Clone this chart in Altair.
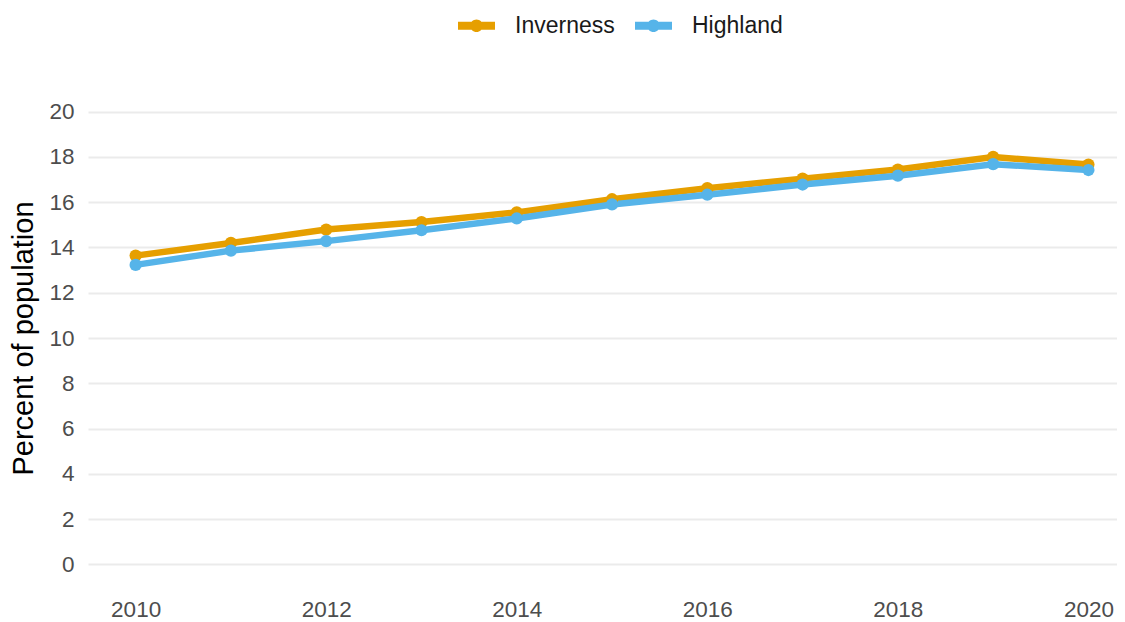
import altair as alt
import pandas as pd

years = [2010, 2011, 2012, 2013, 2014, 2015, 2016, 2017, 2018, 2019, 2020]
inverness = [13.64, 14.2, 14.79, 15.12, 15.55, 16.13, 16.62, 17.04, 17.44, 18.0, 17.66]
highland = [13.23, 13.86, 14.28, 14.76, 15.28, 15.9, 16.33, 16.78, 17.17, 17.68, 17.42]
series = ["Inverness", "Highland"]
colors = ["#E69F00", "#56B4E9"]

rows = []
for y, v in zip(years, inverness):
    rows.append({"year": y, "value": v, "area": "Inverness"})
for y, v in zip(years, highland):
    rows.append({"year": y, "value": v, "area": "Highland"})
df = pd.DataFrame(rows)

FONT = "Liberation Sans"

x = alt.X("year:Q", scale=alt.Scale(domain=[2009.5, 2020.3], nice=False, zero=False),
          axis=alt.Axis(values=[2010, 2012, 2014, 2016, 2018, 2020], format="d", title=None,
                        grid=False, domain=False, ticks=False, labelFontSize=22.5,
                        labelColor="#4D4D4D", labelPadding=11, labelFont=FONT))
y = alt.Y("value:Q", scale=alt.Scale(domain=[-1, 21], nice=False),
          axis=alt.Axis(values=list(range(0, 21, 2)), title="Percent of population",
                        grid=True, gridColor="#EBEBEB", gridWidth=1.8, domain=False, ticks=False,
                        labelFontSize=22.5, labelColor="#4D4D4D", labelPadding=14, labelFont=FONT,
                        titleFontSize=29, titleColor="#000000", titleFont=FONT,
                        titleFontWeight="normal", titlePadding=10))

sym = ("M-1,-0.22 L1,-0.22 L1,0.22 L-1,0.22 Z "
       "M0.34,0 A0.34,0.34 0 1,1 -0.34,0 A0.34,0.34 0 1,1 0.34,0 Z")

color = alt.Color("area:N", scale=alt.Scale(domain=series, range=colors),
                  legend=alt.Legend(title=None, orient="none", direction="horizontal",
                                    legendX=370, legendY=-82, symbolType=sym, symbolSize=1369,
                                    symbolStrokeWidth=0, symbolOpacity=1,
                                    labelFontSize=23, labelColor="#1A1A1A",
                                    labelFont=FONT, labelOffset=20, columnPadding=20))

lines = alt.Chart(df).mark_line(strokeWidth=6.5).encode(x=x, y=y, color=color)
points = alt.Chart(df).mark_point(filled=True, size=150, opacity=1).encode(x=x, y=y, color=color)

chart = alt.layer(lines, points).properties(
    width=1029, height=498,
    autosize=alt.AutoSizeParams(type="none"),
    padding={"left": 80, "top": 81, "right": 0, "bottom": 33},
    background="white",
).configure_view(stroke=None)

chart.save("out.html", embed_options={"renderer": "svg", "actions": False})
